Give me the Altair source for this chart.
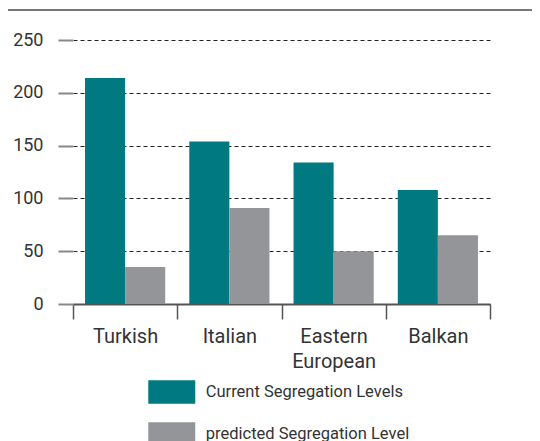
import altair as alt
import pandas as pd

categories = ["Turkish", "Italian", "Eastern European", "Balkan"]
series = ["Current Segregation Levels", "predicted Segregation Level"]
current = [214, 154, 134, 108]
predicted = [35, 91, 50, 65]
colors = ["#007a80", "#939598"]
y_ticks = [0, 50, 100, 150, 200, 250]

rows = []
for c, a, b in zip(categories, current, predicted):
    rows.append({"group": c, "series": series[0], "value": a})
    rows.append({"group": c, "series": series[1], "value": b})
df = pd.DataFrame(rows)

FONT = "Roboto"
TEXT = "#333333"

bars = alt.Chart(df).mark_bar().encode(
    x=alt.X(
        "group:N", sort=categories,
        scale=alt.Scale(paddingInner=0, paddingOuter=0),
        axis=alt.Axis(
            title=None, labelAngle=0, tickBand="extent", tickSize=15,
            tickColor="#555", tickWidth=1.5, domainColor="#555", domainWidth=2,
            labelFontSize=20, labelColor=TEXT, labelFont=FONT,
            labelBaseline="middle", labelPadding=17, labelLineHeight=25,
            labelExpr="datum.label == 'Eastern European' ? ['Eastern', 'European'] : datum.label",
        ),
    ),
    xOffset=alt.XOffset("series:N", sort=series,
                        scale=alt.Scale(paddingInner=0, paddingOuter=0.3)),
    y=alt.Y(
        "value:Q", scale=alt.Scale(domain=[0, 250], nice=False),
        axis=alt.Axis(
            title=None, values=y_ticks, domain=False, tickSize=15,
            tickColor="#888", tickWidth=2, labelPadding=15,
            gridDash=[4, 3], gridColor="#222", gridWidth=1,
            labelFontSize=18, labelFont=FONT, labelColor=TEXT,
        ),
    ),
    color=alt.Color(
        "series:N", sort=series,
        scale=alt.Scale(domain=series, range=colors),
        legend=alt.Legend(
            title=None, orient="none", legendX=86.75, legendY=340,
            direction="vertical", symbolType="M-2,-1H2V1H-2Z", symbolSize=552,
            symbolStrokeWidth=0, symbolOpacity=1, labelFontSize=16.5,
            labelFont=FONT, labelColor=TEXT, labelOffset=22, rowPadding=18,
            labelLimit=400, padding=0,
        ),
    ),
)

top_line = alt.Chart(pd.DataFrame({"a": [0]})).mark_rule(
    color="#777", strokeWidth=2, clip=False
).encode(x=alt.value(-66), x2=alt.value(467), y=alt.value(-30))

chart = alt.layer(bars, top_line).properties(
    width=417, height=264,
    autosize=alt.AutoSizeParams(type="none"),
    padding={"top": 32, "left": 65, "right": 42, "bottom": 140},
).configure_view(stroke=None)

chart.save("out.html", embed_options={"renderer": "svg", "actions": False})
